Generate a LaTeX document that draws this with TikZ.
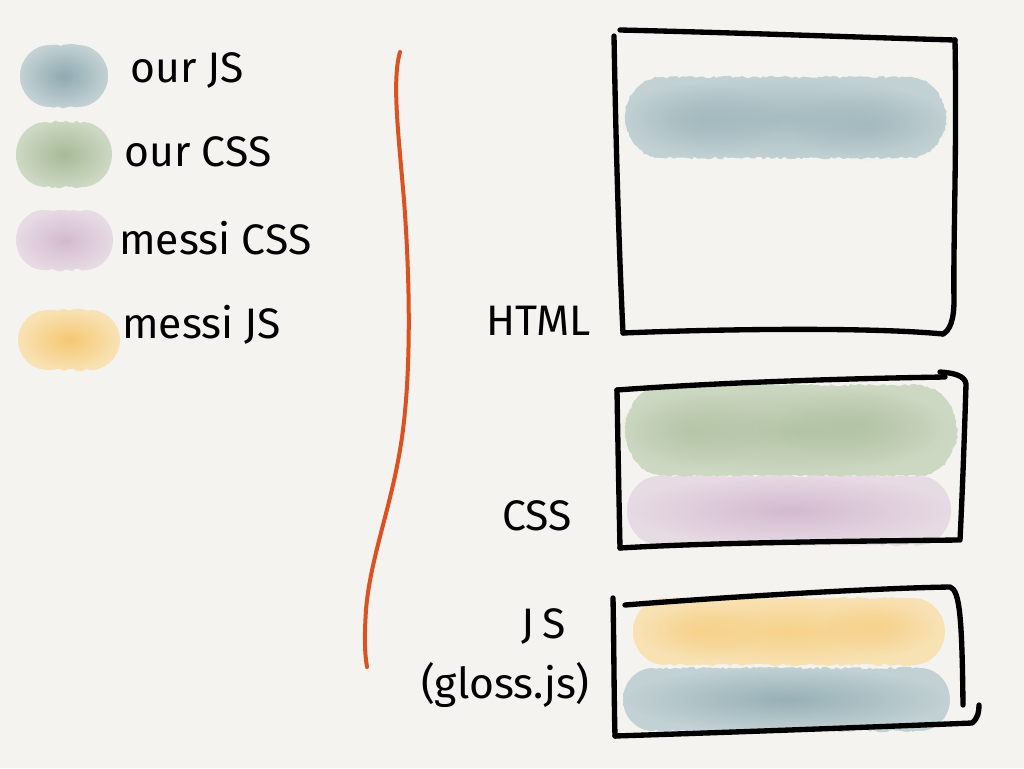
\documentclass[tikz,border=0pt]{standalone}
\usepackage{fontspec}
\setmainfont{Fira Sans}
\usetikzlibrary{decorations.pathmorphing,fadings}
\definecolor{bg}{HTML}{F4F3EF}
\definecolor{jsC}{HTML}{8FAAB1}
\definecolor{jsL}{HTML}{C2D1D3}
\definecolor{cssC}{HTML}{A7BA97}
\definecolor{cssL}{HTML}{CDD8C3}
\definecolor{msC}{HTML}{D3BACF}
\definecolor{msL}{HTML}{E6DAE3}
\definecolor{yjC}{HTML}{F5C872}
\definecolor{yjL}{HTML}{F8E2B4}
\definecolor{orangeline}{HTML}{DD5120}
\tikzfading[name=softedge, inner color=transparent!0, outer color=transparent!100]
\tikzset{
  pen/.style={line width=4pt, line cap=round, line join=round, black},
  ragged/.style={decorate, decoration={random steps, segment length=2.5pt, amplitude=1pt}},
  lbl/.style={inner sep=0pt, font=\fontsize{32}{38}\selectfont},
}
% #1=x1 #2=y1 #3=x2 #4=y2 #5=end radius #6=centre colour #7=light colour
\newcommand\wsh[7]{%
  \shade[ragged, inner color=#6, outer color=#7]
    plot[domain=-90:90, samples=24] ({#3-#5+#5*cos(\x)},{(#2+#4)/2+(#4-#2)/2*sin(\x)})
    -- plot[domain=90:270, samples=24] ({#1+#5+#5*cos(\x)},{(#2+#4)/2+(#4-#2)/2*sin(\x)})
    -- cycle;
}
% soft darker lump: centre x, centre y, x radius, y radius, colour
\newcommand\lump[5]{%
  \fill[#5, opacity=0.45, path fading=softedge] (#1,#2) ellipse [x radius=#3, y radius=#4];
}
\begin{document}
\begin{tikzpicture}[x=0.75pt, y=-0.75pt]
\pgfmathsetseed{7}
\fill[bg] (0,0) rectangle (1024,768);
\useasboundingbox (0,0) rectangle (1024,768);

% legend swatches
\wsh{20}{45}{108}{107}{30}{jsC}{jsL}
\wsh{16}{122}{112}{187}{30}{cssC}{cssL}
\wsh{16}{210}{113}{270}{28}{msC}{msL}
\wsh{18}{310}{120}{370}{30}{yjC}{yjL}

% legend labels
\node[lbl, anchor=west] (ourjs) at (130,70) {our JS};
\node[lbl, anchor=west] (ourcss) at (124,152) {our CSS};
\node[lbl, anchor=west] (messicss) at (119,238) {messi CSS};
\node[lbl, anchor=west] (messijs) at (122,325) {messi JS};

% orange brace line
\draw[orangeline, line width=3pt, line cap=round]
  (400,52) .. controls (392,80) and (398,130) .. (404,200)
  .. controls (410,280) and (412,380) .. (400,450)
  .. controls (390,510) and (370,560) .. (366,610)
  .. controls (364,640) and (365,655) .. (367,667);

% right labels
\node[lbl, anchor=east] (html) at (591,321) {HTML};
\node[lbl, anchor=east] (css) at (572,516) {CSS};
\node[lbl, anchor=east] (js) at (566,626) {J\hspace{6pt}S};
\node[lbl, anchor=east] (gloss) at (590,685) {(gloss.js)};

% HTML box
\wsh{625}{77}{946}{158}{38}{jsC!55!jsL}{jsL}
\lump{700}{120}{80}{38}{jsC}
\lump{870}{125}{80}{36}{jsC}
\draw[pen] (620,30) .. controls (750,33) and (880,38) .. (955,40);
\draw[pen] (955,40) .. controls (957,150) and (953,250) .. (954,300)
  .. controls (954,320) and (950,330) .. (943,334);
\draw[pen] (623,333) .. controls (720,329) and (870,327) .. (943,334);
\draw[pen] (614,36) .. controls (616,150) and (619,250) .. (623,333);

% CSS box
\wsh{625}{385}{957}{476}{40}{cssC!65!cssL}{cssL}
\lump{690}{430}{75}{40}{cssC}
\lump{860}{425}{80}{38}{cssC}
\wsh{627}{476}{951}{545}{32}{msC}{msL}
\draw[pen] (617,390) .. controls (740,381) and (880,378) .. (945,377);
\draw[pen] (940,372) .. controls (955,373) and (965,376) .. (966,384)
  .. controls (964,450) and (962,500) .. (960,540);
\draw[pen] (617,390) .. controls (618,450) and (619,500) .. (620,548);
\draw[pen] (620,548) .. controls (720,542) and (880,541) .. (958,540);

% JS box
\wsh{633}{598}{945}{665}{32}{yjC!65!yjL}{yjL}
\lump{700}{630}{60}{30}{yjC}
\lump{880}{625}{55}{30}{yjC}
\wsh{623}{668}{950}{731}{30}{jsC!85!jsL}{jsL}
\draw[pen] (625,605) .. controls (740,596) and (880,588) .. (950,587)
  .. controls (960,590) and (962,620) .. (963,705);
\draw[pen] (613,598) .. controls (614,650) and (614,700) .. (615,736);
\draw[pen] (615,736) .. controls (740,732) and (900,726) .. (972,723)
  .. controls (978,718) and (979,712) .. (979,705);
\end{tikzpicture}
\end{document}
